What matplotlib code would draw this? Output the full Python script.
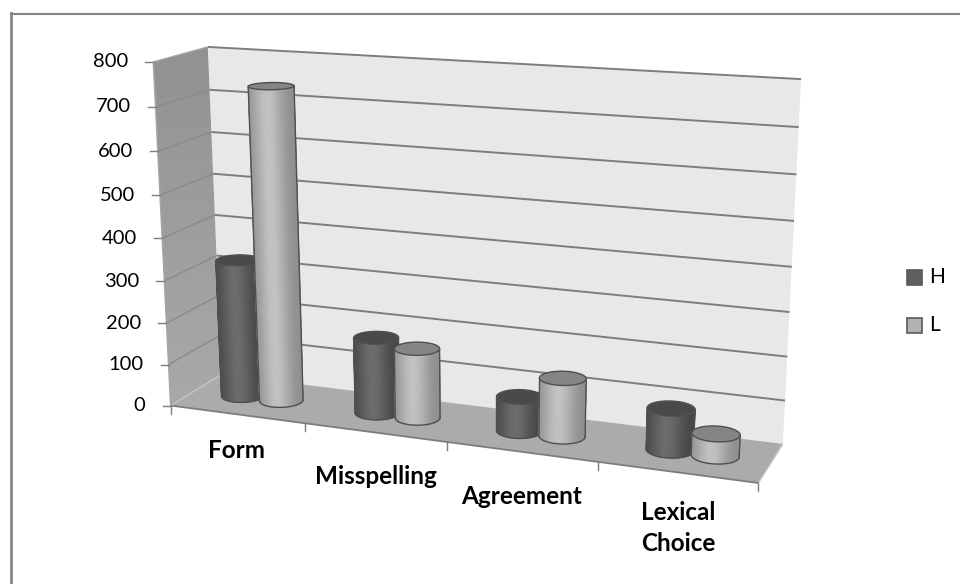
import matplotlib

matplotlib.use("Agg")
import matplotlib.pyplot as plt
import numpy as np
from matplotlib.patches import Polygon, Rectangle

categories = ["Form", "Misspelling", "Agreement", "Lexical\nChoice"]
series_names = ["H", "L"]
h_values = [330, 180, 80, 95]
l_values = [740, 165, 135, 50]
y_ticks = [0, 100, 200, 300, 400, 500, 600, 700, 800]

W, H = 960, 584
Y_MAX = 800


def fit_camera():
    """Fit a 3x4 projective matrix from a few box corners read off the picture."""
    # (category pos, value, depth 0=front 1=back) -> pixel
    pairs = [
        ((0, 800, 1), (208, 47)),
        ((4, 800, 1), (801, 79)),
        ((4, 0, 1), (783, 443)),
        ((0, 0, 1), (221, 375)),
        ((0, 800, 0), (153, 62)),
        ((0, 0, 0), (171, 405)),
        ((4, 0, 0), (758, 483)),
        ((0, 400, 1), (215, 215)),
        ((4, 400, 1), (792, 267)),
        ((0, 400, 0), (162, 238)),
        ((1, 0, 0), (305, 423)),
        ((2, 0, 0), (447, 442)),
        ((3, 0, 0), (598, 463)),
    ]
    rows = []
    for (x, y, z), (u, v) in pairs:
        rows.append([x, y, z, 1, 0, 0, 0, 0, -u * x, -u * y, -u * z, -u])
        rows.append([0, 0, 0, 0, x, y, z, 1, -v * x, -v * y, -v * z, -v])
    _, _, vt = np.linalg.svd(np.array(rows, dtype=float))
    return vt[-1].reshape(3, 4)


CAM = fit_camera()


def project(x, y, z):
    x, y, z = np.broadcast_arrays(x, y, z)
    pts = np.stack([x, y, z, np.ones_like(x)], axis=0).astype(float)
    p = CAM @ pts.reshape(4, -1)
    return p[0] / p[2], p[1] / p[2]


def face(ax, xs, ys, zs, **kw):
    u, v = project(np.array(xs), np.array(ys), np.array(zs))
    ax.fill(u, v, **kw)


def line3(ax, a, b, **kw):
    u, v = project(np.array([a[0], b[0]]), np.array([a[1], b[1]]), np.array([a[2], b[2]]))
    ax.plot(u, v, solid_capstyle="butt", **kw)


def shade(t, base):
    # t runs 0..1 across the visible side of the cylinder, left to right
    light = np.exp(-(((t - 0.42) / 0.33) ** 2))
    return np.clip(base[0] + (base[1] - base[0]) * light, 0, 1)


def cylinder(ax, xc, value, base, top_color, edge, zorder):
    rx, rz, zc = 0.148, 0.20, 0.5
    theta = np.linspace(0, 2 * np.pi, 121)
    cx, cz = xc + rx * np.cos(theta), zc + rz * np.sin(theta)
    bu, bv = project(cx, 0, cz)
    tu, tv = project(cx, value, cz)

    # side wall as thin strips between the two silhouette points
    i_left = np.argmin(bu)
    i_right = np.argmax(bu)
    idx = np.arange(min(i_left, i_right), max(i_left, i_right) + 1)
    if bv[idx].mean() < bv.mean():
        idx = np.r_[np.arange(max(i_left, i_right), 121), np.arange(1, min(i_left, i_right) + 1)]
    order = idx if bu[idx[0]] < bu[idx[-1]] else idx[::-1]
    ul, ur = bu[order[0]], bu[order[-1]]
    for a, b in zip(order[:-1], order[1:]):
        t = ((bu[a] + bu[b]) / 2 - ul) / (ur - ul)
        g = shade(t, base)
        ax.fill(
            [bu[a], bu[b], tu[b], tu[a]],
            [bv[a], bv[b], tv[b], tv[a]],
            color=(g, g, g),
            lw=0.6,
            zorder=zorder,
        )
    # outline along the silhouette
    kw = dict(color=edge, lw=1.0, zorder=zorder + 0.1)
    ax.plot(bu[order], bv[order], **kw)
    ax.plot([bu[order[0]], tu[order[0]]], [bv[order[0]], tv[order[0]]], **kw)
    ax.plot([bu[order[-1]], tu[order[-1]]], [bv[order[-1]], tv[order[-1]]], **kw)
    ax.fill(tu, tv, facecolor=top_color, edgecolor=edge, lw=1.0, zorder=zorder + 0.2)


fig = plt.figure(figsize=(W / 100, H / 100), dpi=100)
ax = fig.add_axes([0, 0, 1, 1])

# chart frame, only top and left are inside the crop
ax.plot([11, W], [13.5, 13.5], color="#868686", lw=1.5)
ax.plot([11, 11], [13, H], color="#868686", lw=2.0)

# walls and floor
face(ax, [0, 4, 4, 0], [0, 0, Y_MAX, Y_MAX], [1, 1, 1, 1], color="#e8e8e8", lw=0)
# left wall gets a little lighter towards the floor
wall_u, wall_v = project(np.array([0, 0, 0, 0]), np.array([0, 0, Y_MAX, Y_MAX]), np.array([0, 1, 1, 0]))
wall_clip = Polygon(np.column_stack([wall_u, wall_v]), transform=ax.transData, fc="none", lw=0)
ax.add_patch(wall_clip)
wall_img = ax.imshow(
    np.linspace(0.57, 0.66, 64).reshape(-1, 1),
    cmap="gray",
    vmin=0,
    vmax=1,
    extent=(wall_u.min(), wall_u.max(), wall_v.max(), wall_v.min()),
    aspect="auto",
    zorder=1,
)
wall_img.set_clip_path(wall_clip)
face(ax, [0, 4, 4, 0], [0, 0, 0, 0], [0, 0, 1, 1], color="#ababab", lw=0, zorder=1.2)

GRID = "#7d7d7d"
for v in y_ticks[1:]:
    line3(ax, (0, v, 1), (4, v, 1), color=GRID, lw=1.4)
for v in y_ticks[1:-1]:
    line3(ax, (0, v, 0), (0, v, 1), color="#8a8a8a", lw=1.0)
line3(ax, (0, Y_MAX, 0), (0, Y_MAX, 1), color="#a6a6a6", lw=1.0)
line3(ax, (0, 0, 0), (0, 0, 1), color="#c4c4c4", lw=1.0)
line3(ax, (4, 0, 0), (4, 0, 1), color="#c4c4c4", lw=1.0)
line3(ax, (0, 0, 0), (0, Y_MAX, 0), color="#a6a6a6", lw=1.0)
line3(ax, (0, 0, 0), (4, 0, 0), color="#7d7d7d", lw=1.3)

# y ticks and labels
for v in y_ticks:
    u0, v0 = project(0, v, 0)
    ax.plot([u0[0] - 8, u0[0]], [v0[0], v0[0]], color="#7d7d7d", lw=1.0)
    ax.text(u0[0] - 25, v0[0], str(v), ha="right", va="center", fontsize=14.5, family="Lato", color="black")

# x ticks and labels
label_y = [451, 476, 496, 528]
label_x = [236, 376, 522, 678]
for i in range(5):
    u0, v0 = project(i, 0, 0)
    ax.plot([u0[0], u0[0]], [v0[0], v0[0] + 8], color="#7d7d7d", lw=1.0)
for i, name in enumerate(categories):
    ax.text(label_x[i], label_y[i], name, ha="center", va="center", fontsize=17.5, family="Lato",
            weight="bold", linespacing=1.42, color="black")

# cylinders, each one over the previous one
for i in range(len(categories)):
    cylinder(ax, i + 0.36, h_values[i], (0.27, 0.42), "#4a4a4a", "#4f4f4f", 5 + 2 * i)
    cylinder(ax, i + 0.65, l_values[i], (0.55, 0.76), "#858585", "#4f4f4f", 6 + 2 * i)

# legend
for name, y0, c in zip(series_names, [269.5, 317.5], ["#5f5f5f", "#b2b2b2"]):
    ax.add_patch(Rectangle((906.5, y0), 15, 15, fc=c, ec="#5a5a5a", lw=1.2))
    ax.text(929, y0 + 7.5, name, ha="left", va="center", fontsize=15, family="Lato", color="black")

ax.set_xlim(0, W)
ax.set_ylim(H, 0)
ax.axis("off")

fig.savefig("out.png", dpi=100)
